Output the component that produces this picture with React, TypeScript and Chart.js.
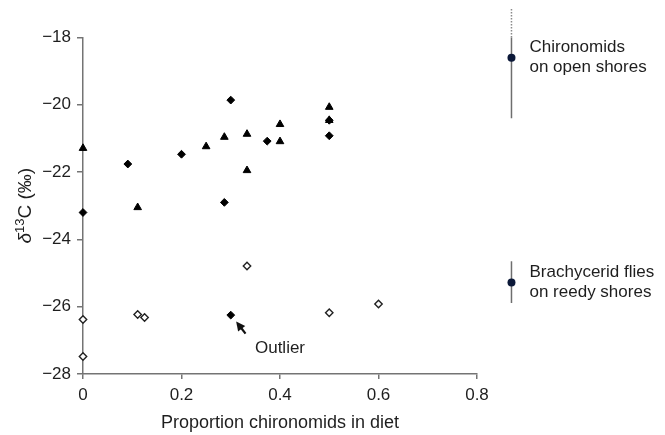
import React, { useEffect, useRef } from "react";
import { Chart, registerables } from "chart.js";

Chart.register(...registerables);

// ---- data ----
const triangleX = [0, 0.111, 0.25, 0.287, 0.333, 0.333, 0.4, 0.4, 0.5, 0.5];
const triangleY = [-21.29, -23.05, -21.24, -20.96, -20.87, -21.95, -20.58, -21.09, -20.07, -20.46];

const diamondX = [0, 0.091, 0.2, 0.3, 0.287, 0.374, 0.5, 0.5, 0.3];
const diamondY = [-23.2, -21.76, -21.47, -19.86, -22.9, -21.08, -20.92, -20.46, -26.25];

const openX = [0, 0, 0.111, 0.125, 0.333, 0.5, 0.6];
const openY = [-26.38, -27.48, -26.23, -26.32, -24.79, -26.18, -25.92];

const xTicks = [0, 0.2, 0.4, 0.6, 0.8];
const yTicks = [-28, -26, -24, -22, -20, -18];

const summaryX = 0.87;
const summaryMean = [-18.6, -25.28];
const summaryLow = [-20.4, -25.89];
const summaryHigh = [-17.15, -24.65];
const summaryLabels = [
  ["Chironomids", "on open shores"],
  ["Brachycerid flies", "on reedy shores"],
];

const outlierLabel = "Outlier";
const outlierLabelPos = { x: 0.4, y: -27.24 };
const arrowTip = { x: 0.311, y: -26.44 };
const arrowTail = { x: 0.33, y: -26.8 };

const xTitle = "Proportion chironomids in diet";

const FONT = "'Liberation Sans', Arial, Helvetica, sans-serif";
const TEXT = "#1e1e1e";
const AXIS = "#747474";

const toPoints = (xs: number[], ys: number[]) => xs.map((x, i) => ({ x, y: ys[i] }));

const annotationPlugin = {
  id: "annotations",
  afterDatasetsDraw(chart: any) {
    const { ctx, scales } = chart;
    const xs = scales.x;
    const ys = scales.y;
    ctx.save();

    // summary error bars and labels
    summaryMean.forEach((m, i) => {
      const px = xs.getPixelForValue(summaryX);
      const low = ys.getPixelForValue(summaryLow[i]);
      const hiVal = summaryHigh[i];
      const solidTop = ys.getPixelForValue(Math.min(hiVal, ys.max));
      ctx.strokeStyle = "#6e6e6e";
      ctx.lineWidth = 1.5;
      ctx.setLineDash([]);
      ctx.beginPath();
      ctx.moveTo(px, low);
      ctx.lineTo(px, solidTop);
      ctx.stroke();
      if (hiVal > ys.max) {
        ctx.setLineDash([1.5, 1.5]);
        ctx.strokeStyle = "#8a8a8a";
        ctx.beginPath();
        ctx.moveTo(px, solidTop);
        ctx.lineTo(px, ys.getPixelForValue(hiVal));
        ctx.stroke();
        ctx.setLineDash([]);
      }
      const my = ys.getPixelForValue(m);
      ctx.fillStyle = "#0b1838";
      ctx.beginPath();
      ctx.arc(px, my, 4, 0, Math.PI * 2);
      ctx.fill();

      ctx.fillStyle = TEXT;
      ctx.font = `17px ${FONT}`;
      ctx.textAlign = "left";
      ctx.textBaseline = "middle";
      ctx.fillText(summaryLabels[i][0], px + 18, my - 10);
      ctx.fillText(summaryLabels[i][1], px + 18, my + 10);
    });

    // outlier arrow
    const tx = xs.getPixelForValue(arrowTip.x);
    const ty = ys.getPixelForValue(arrowTip.y);
    const sx = xs.getPixelForValue(arrowTail.x);
    const sy = ys.getPixelForValue(arrowTail.y);
    const ang = Math.atan2(ty - sy, tx - sx);
    const headLen = 9;
    const headW = 4.5;
    const bx = tx - Math.cos(ang) * headLen;
    const by = ty - Math.sin(ang) * headLen;
    ctx.strokeStyle = "#111";
    ctx.lineWidth = 2.2;
    ctx.beginPath();
    ctx.moveTo(sx, sy);
    ctx.lineTo(bx + Math.cos(ang) * 2, by + Math.sin(ang) * 2);
    ctx.stroke();
    ctx.fillStyle = "#111";
    ctx.beginPath();
    ctx.moveTo(tx, ty);
    ctx.lineTo(bx + Math.sin(ang) * headW, by - Math.cos(ang) * headW);
    ctx.lineTo(bx - Math.sin(ang) * headW, by + Math.cos(ang) * headW);
    ctx.closePath();
    ctx.fill();

    ctx.fillStyle = TEXT;
    ctx.font = `17px ${FONT}`;
    ctx.textAlign = "center";
    ctx.textBaseline = "middle";
    ctx.fillText(outlierLabel, xs.getPixelForValue(outlierLabelPos.x), ys.getPixelForValue(outlierLabelPos.y));

    // y-axis title: δ13C (‰)
    const cy = (chart.chartArea.top + chart.chartArea.bottom) / 2;
    const cx = 26;
    ctx.translate(cx, cy);
    ctx.rotate(-Math.PI / 2);
    const fMain = `19px ${FONT}`;
    const fItal = `italic 19px ${FONT}`;
    const fSup = `13px ${FONT}`;
    ctx.font = fItal;
    const wD = ctx.measureText("δ").width;
    ctx.font = fSup;
    const wS = ctx.measureText("13").width;
    ctx.font = fMain;
    const wR = ctx.measureText("C (‰)").width;
    const total = wD + wS + wR;
    let x0 = -total / 2;
    ctx.textAlign = "left";
    ctx.textBaseline = "middle";
    ctx.fillStyle = TEXT;
    ctx.font = fItal;
    ctx.fillText("δ", x0, 0);
    x0 += wD;
    ctx.font = fSup;
    ctx.fillText("13", x0, -6);
    x0 += wS;
    ctx.font = fMain;
    ctx.fillText("C (‰)", x0, 0);

    ctx.restore();
  },
};

export default function App() {
  const ref = useRef<HTMLCanvasElement | null>(null);

  useEffect(() => {
    document.body.style.margin = "0";
    const canvas = ref.current;
    if (!canvas) return;
    const chart = new Chart(canvas, {
      type: "scatter",
      data: {
        datasets: [
          {
            label: "triangles",
            data: toPoints(triangleX, triangleY),
            pointStyle: "triangle",
            pointRadius: 4.4,
            backgroundColor: "#000",
            borderColor: "#000",
            borderWidth: 1,
            clip: false,
          },
          {
            label: "diamonds",
            data: toPoints(diamondX, diamondY),
            pointStyle: "rectRot",
            pointRadius: 3.9,
            backgroundColor: "#000",
            borderColor: "#000",
            borderWidth: 1,
            clip: false,
          },
          {
            label: "open diamonds",
            data: toPoints(openX, openY),
            pointStyle: "rectRot",
            pointRadius: 3.7,
            backgroundColor: "#fff",
            borderColor: "#222",
            borderWidth: 1.4,
            clip: false,
          },
        ],
      },
      options: {
        responsive: false,
        animation: false,
        events: [],
        layout: { padding: { top: 37.5, right: 188, left: 0, bottom: 0 } },
        plugins: {
          legend: { display: false },
          tooltip: { enabled: false },
        },
        scales: {
          x: {
            type: "linear",
            min: 0,
            max: 0.8,
            afterBuildTicks: (s: any) => {
              s.ticks = xTicks.map((v) => ({ value: v }));
            },
            afterFit: (s: any) => {
              s.height = 61;
            },
            border: { display: true, color: AXIS, width: 1.5 },
            grid: { display: true, drawOnChartArea: false, drawTicks: true, tickLength: 5, color: AXIS, lineWidth: 1.5 },
            ticks: {
              color: TEXT,
              font: { family: FONT, size: 17 },
              padding: 6,
              maxRotation: 0,
              callback: (v: any) => (v === 0 ? "0" : Number(v).toFixed(1)),
            },
            title: {
              display: true,
              text: xTitle,
              color: TEXT,
              font: { family: FONT, size: 18 },
              padding: { top: 0, bottom: 1 },
            },
          },
          y: {
            type: "linear",
            min: -28,
            max: -18,
            afterBuildTicks: (s: any) => {
              s.ticks = yTicks.map((v) => ({ value: v }));
            },
            afterFit: (s: any) => {
              s.width = 83;
            },
            border: { display: true, color: AXIS, width: 1.5 },
            grid: { display: true, drawOnChartArea: false, drawTicks: true, tickLength: 6, color: AXIS, lineWidth: 1.5 },
            ticks: {
              color: TEXT,
              font: { family: FONT, size: 17 },
              padding: 6,
              callback: (v: any) => (v < 0 ? "\u2212" + Math.abs(v) : String(v)),
            },
          },
        },
      },
      plugins: [annotationPlugin],
    } as any);
    return () => chart.destroy();
  }, []);

  return (
    <div style={{ width: 665, height: 435 }}>
      <canvas ref={ref} width={665} height={435} style={{ display: "block" }} />
    </div>
  );
}
